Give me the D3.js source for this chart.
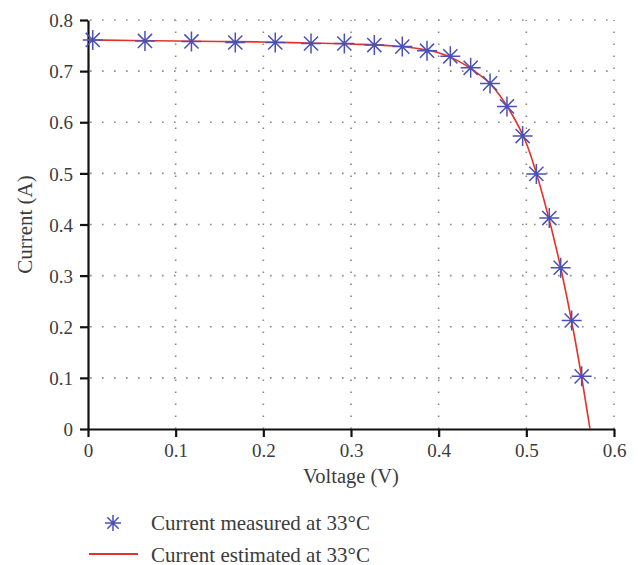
<!DOCTYPE html>
<html>
<head>
<meta charset="utf-8">
<script src="https://cdn.jsdelivr.net/npm/d3@7"></script>
<style>
  body { margin: 0; background: #fff; }
  svg text { font-family: "Liberation Serif", "DejaVu Serif", serif; fill: #3b3b3b; }
</style>
</head>
<body>
<svg width="638" height="565"></svg>
<script>
// Measured points (voltage V, current A)
var measuredV = [0.0054, 0.065, 0.118, 0.168, 0.2136, 0.2544, 0.2924, 0.3266, 0.3585, 0.3867,
                 0.4133, 0.4365, 0.4586, 0.4779, 0.4958, 0.5114, 0.5262, 0.5392, 0.5517, 0.5631];
var measuredI = [0.761, 0.759, 0.758, 0.756, 0.756, 0.754, 0.754, 0.751, 0.748, 0.740,
                 0.729, 0.7065, 0.676, 0.631, 0.573, 0.499, 0.4126, 0.3154, 0.2122, 0.103];

// Estimated curve
var estimatedV = [0, 0.05, 0.1, 0.15, 0.2, 0.25, 0.3, 0.35, 0.38, 0.40, 0.42, 0.44, 0.46,
                  0.48, 0.50, 0.52, 0.54, 0.56, 0.5726];
var estimatedI = [0.761, 0.760, 0.759, 0.758, 0.757, 0.755, 0.753, 0.749, 0.743, 0.736,
                  0.722, 0.701, 0.673, 0.626, 0.559, 0.449, 0.309, 0.1325, 0];

var xTicks = [0, 0.1, 0.2, 0.3, 0.4, 0.5, 0.6];
var yTicks = [0, 0.1, 0.2, 0.3, 0.4, 0.5, 0.6, 0.7, 0.8];
var legendLabels = ["Current measured at 33\u00b0C", "Current estimated at 33\u00b0C"];

var svg = d3.select("svg");
var margin = {left: 88, right: 24, top: 20, bottom: 136};
var width = +svg.attr("width"),
    height = +svg.attr("height");

var x = d3.scaleLinear().domain([0, 0.6]).range([margin.left, width - margin.right]);
var y = d3.scaleLinear().domain([0, 0.8]).range([height - margin.bottom, margin.top]);

var blue = "#4b51b3", red = "#e3322b";

// Gridlines (dotted)
var grid = svg.append("g").attr("stroke", "#8a8a8a").attr("stroke-width", 1.6)
  .attr("stroke-dasharray", "1.6,10.4");
grid.selectAll("line.v").data(xTicks.slice(1)).enter().append("line")
  .attr("x1", d => x(d)).attr("x2", d => x(d))
  .attr("y1", y(0)).attr("y2", y(0.8));
grid.selectAll("line.h").data(yTicks.slice(1)).enter().append("line")
  .attr("y1", d => y(d)).attr("y2", d => y(d))
  .attr("x1", x(0) + 2).attr("x2", x(0.6));

// Axes
var xAxis = svg.append("g")
  .attr("transform", "translate(0," + y(0) + ")")
  .call(d3.axisBottom(x).tickValues(xTicks).tickFormat(d3.format("")).tickSize(8).tickSizeOuter(0));
var yAxis = svg.append("g")
  .attr("transform", "translate(" + x(0) + ",0)")
  .call(d3.axisLeft(y).tickValues(yTicks).tickFormat(d3.format("")).tickSize(8).tickSizeOuter(0));

[xAxis, yAxis].forEach(function(a) {
  a.select(".domain").attr("stroke", "#111").attr("stroke-width", 2.2);
  a.selectAll(".tick line").attr("stroke", "#111").attr("stroke-width", 2.2);
  a.selectAll(".tick text").attr("font-size", 19).attr("font-family", null).style("fill", "#3b3b3b");
});
xAxis.selectAll(".tick text").attr("dy", null).attr("y", 28);
yAxis.selectAll(".tick text").attr("x", -15).attr("dy", "0.35em");

// Axis titles
svg.append("text")
  .attr("x", (x(0) + x(0.6)) / 2).attr("y", 483)
  .attr("text-anchor", "middle").attr("font-size", 20.5)
  .text("Voltage (V)");
svg.append("text")
  .attr("transform", "translate(32," + (y(0) + y(0.8)) / 2 + ") rotate(-90)")
  .attr("text-anchor", "middle").attr("font-size", 21)
  .text("Current (A)");

// Asterisk marker: + and x
var asterisk = {
  draw: function(ctx, size) {
    var r = Math.sqrt(size) / 2, d = r * Math.SQRT1_2;
    ctx.moveTo(-r, 0); ctx.lineTo(r, 0);
    ctx.moveTo(0, -r); ctx.lineTo(0, r);
    ctx.moveTo(-d, -d); ctx.lineTo(d, d);
    ctx.moveTo(-d, d); ctx.lineTo(d, -d);
  }
};
var symbolPath = d3.symbol().type(asterisk).size(400);

// Estimated line
var estimated = estimatedV.map((v, i) => [v, estimatedI[i]]);
svg.append("path")
  .datum(estimated)
  .attr("fill", "none")
  .attr("stroke", red)
  .attr("stroke-width", 1.6)
  .attr("d", d3.line().x(d => x(d[0])).y(d => y(d[1])).curve(d3.curveMonotoneX));

// Measured markers
var measured = measuredV.map((v, i) => [v, measuredI[i]]);
svg.append("g").selectAll("path")
  .data(measured).enter().append("path")
  .attr("transform", d => "translate(" + x(d[0]) + "," + y(d[1]) + ")")
  .attr("d", symbolPath)
  .attr("fill", "none")
  .attr("stroke", blue)
  .attr("stroke-width", 1.5);

// Legend
var legend = svg.append("g");
legend.append("path")
  .attr("transform", "translate(113,523)")
  .attr("d", d3.symbol().type(asterisk).size(256))
  .attr("fill", "none").attr("stroke", blue).attr("stroke-width", 1.5);
legend.append("line")
  .attr("x1", 89).attr("x2", 138).attr("y1", 554).attr("y2", 554)
  .attr("stroke", red).attr("stroke-width", 2);
legend.selectAll("text").data(legendLabels).enter().append("text")
  .attr("x", 151).attr("y", (d, i) => 530 + i * 31.5)
  .attr("font-size", 21)
  .text(d => d);
</script>
</body>
</html>
